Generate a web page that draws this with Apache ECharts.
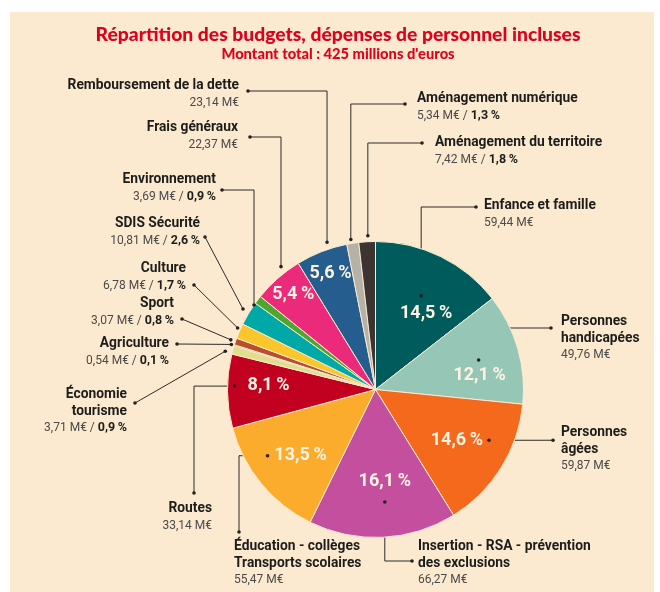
<!DOCTYPE html>
<html><head><meta charset="utf-8">
<script src="https://cdn.jsdelivr.net/npm/echarts@6/dist/echarts.min.js"></script>
<style>
html,body{margin:0;padding:0;background:#fff}
#wrap{position:relative;width:660px;height:592px;overflow:hidden}
#bg{position:absolute;left:10px;top:12px;width:644px;height:580px;background:#fcead0}
#c{position:absolute;left:0;top:0;width:660px;height:592px}
</style>
</head><body><div id="wrap"><div id="bg"></div><div id="c"></div></div>
<script>
// ---- data ----
const categories = ['Enfance et famille','Personnes\nhandicapées','Personnes\nâgées','Insertion - RSA - prévention\ndes exclusions','Éducation - collèges\nTransports scolaires','Routes','Économie\ntourisme','Agriculture','Sport','Culture','SDIS Sécurité','Environnement','Frais généraux','Remboursement de la dette','Aménagement numérique','Aménagement du territoire'];
const amounts = [59.44,49.76,59.87,66.27,55.47,33.14,3.71,0.54,3.07,6.78,10.81,3.69,22.37,23.14,5.34,7.42];
const percents = ['14,5','12,1','14,6','16,1','13,5','8,1','0,9','0,1','0,8','1,7','2,6','0,9','5,4','5,6','1,3','1,8'];
const titleText = 'Répartition des budgets, dépenses de personnel incluses';
const subtitleText = 'Montant total : 425 millions d\'euros';

// ---- styles ----
const colors = ['#005b5c','#96c6b6','#f5691d','#c54f9f','#fbac2c','#c2001f','#dfe08c','#a066a8','#b8502a','#fbc52c','#00a8a8','#4da62e','#ec2a7b','#255d8f','#b6b2a8','#3b3430'];
const FONT = 'Roboto, "Liberation Sans", sans-serif';
const TFONT = 'Lato, Roboto, sans-serif';
const CX = 375.5, CY = 389.5, R = 148;

// inner percent label placement: [angle offset deg, radius px] (null = no inner label)
const pctPlace = [[7.8,91],[8.7,105],[0,96],[-3,92],[-2,100],[3,107],null,null,null,null,null,null,[0.5,126],[0,124],null,null];
// outside label layout
const outLay = [
  {align:'left', x:484, y:206, dot:[476,207], route:'hv', inner:[-5,-18]},
  {align:'left', x:561, y:322, dot:[551,328], route:'hv', inner:[-1,-16]},
  {align:'left', x:561, y:433, dot:[553,440], route:'h', inner:[32,0]},
  {align:'left', x:418, y:547, dot:[412,561], route:'hv', inner:[0,21]},
  {align:'left', x:234, y:547, dot:[239,532], route:'vh', inner:[-33,0]},
  {align:'right', x:212, y:509, dot:[194,493], route:'vh', inner:[-34,1]},
  {align:'right', x:127, y:395, dot:[135,403], route:'d', edge:[-1.2,155], pct:true},
  {align:'right', x:169, y:344, dot:[177,344], route:'d', edge:[0,151], pct:true},
  {align:'right', x:174, y:304, dot:[182,319], route:'d', edge:[0,153], pct:true},
  {align:'right', x:186, y:269, dot:[194,285], route:'d', edge:[0.8,151], pct:true},
  {align:'right', x:200, y:224, dot:[205,237], route:'d', edge:[0.3,155], pct:true},
  {align:'right', x:216, y:180, dot:[222,190], route:'hv', edge:[-2.5,148], pct:true},
  {align:'right', x:238, y:128, dot:[250,137], route:'hv', edge:[3.7,155]},
  {align:'right', x:239, y:86, dot:[248,91], route:'hv', edge:[3.1,155]},
  {align:'left', x:417, y:99, dot:[405,104], route:'hv', edge:[-0.5,152], pct:true},
  {align:'left', x:435, y:143, dot:[422,143], route:'hv', edge:[0.4,154], pct:true}
];

// ---- geometry derived from data ----
const total = amounts.reduce((a,b)=>a+b,0);
const mid = []; let acc = 0;
amounts.forEach(v => { mid.push((acc + v/2) / total * 360); acc += v; });
function polar(deg, r){ const a = deg*Math.PI/180; return [CX + r*Math.sin(a), CY - r*Math.cos(a)]; }
const pctPos = pctPlace.map((p,i) => p ? polar(mid[i]+p[0], p[1]) : null);
const linePts = outLay.map((L,i) => {
  let anc;
  if (L.inner) anc = [pctPos[i][0]+L.inner[0], pctPos[i][1]+L.inner[1]];
  else anc = polar(mid[i]+L.edge[0], L.edge[1]);
  const d = L.dot;
  if (L.route === 'hv') return [d, [anc[0], d[1]], anc];
  if (L.route === 'vh') return [d, [d[0], anc[1]], anc];
  if (L.route === 'h') return [[d[0], anc[1]], anc];
  return [d, anc];
});
const fmt = v => v.toFixed(2).replace('.', ',');
const LH = 16.5;

const chart = echarts.init(document.getElementById('c'), null, {renderer:'canvas'});
const pieData = categories.map((n,i)=>({name:n, value:amounts[i], itemStyle:{color:colors[i]}}));
const dots = [];
linePts.forEach(pts => { [pts[0], pts[pts.length-1]].forEach(p => dots.push({type:'circle', shape:{cx:p[0], cy:p[1], r:1.8}, style:{fill:'#222'}, z:100, silent:true})); });

chart.setOption({
  backgroundColor:'transparent',
  animation:false,
  title:{
    text:titleText, subtext:subtitleText, left:333, top:20, textAlign:'center', itemGap:3,
    textStyle:{fontFamily:TFONT, fontSize:19.3, fontWeight:900, color:'#e1001c'},
    subtextStyle:{fontFamily:TFONT, fontSize:14.7, fontWeight:900, color:'#e1001c'}
  },
  graphic: dots,
  series:[
    {
      type:'pie', center:[CX,CY], radius:R, startAngle:90, clockwise:true, avoidLabelOverlap:false, silent:true,
      data: pieData,
      itemStyle:{borderColor:'#fbe9d0', borderWidth:1},
      label:{show:true, position:'inside', formatter:p => pctPlace[p.dataIndex] ? percents[p.dataIndex] + '\u2009%' : '',
        color:'#fdf3e3', fontSize:18, fontWeight:'bold', fontFamily:FONT},
      labelLine:{show:false},
      labelLayout: p => { const q = pctPos[p.dataIndex]; return q ? {x:q[0], y:q[1], align:'center', verticalAlign:'middle'} : {}; }
    },
    {
      type:'pie', center:[CX,CY], radius:R, startAngle:90, clockwise:true, avoidLabelOverlap:false, silent:true,
      data: categories.map((n,i)=>({name:n, value:amounts[i]})),
      itemStyle:{color:'rgba(0,0,0,0)', borderWidth:0},
      label:{show:true, position:'outside', fontFamily:FONT,
        formatter: p => {
          const i = p.dataIndex, L = outLay[i], s = L.align === 'right' ? 'r' : 'l';
          const lines = categories[i].split('\n').map(t => '{n'+s+'|'+t+'}');
          let v = '{v'+s+'|'+fmt(amounts[i])+' M€'+(L.pct ? ' / ' : '')+'}';
          if (L.pct) v += '{p'+s+'|'+percents[i]+'\u2009%}';
          return lines.concat([v]).join('\n');
        },
        rich:{
          nl:{fontFamily:FONT, fontWeight:'bold', fontSize:13.8, color:'#1d1d1b', lineHeight:LH, align:'left'},
          vl:{fontFamily:FONT, fontSize:12, color:'#4a4a4a', lineHeight:LH, align:'left'},
          pl:{fontFamily:FONT, fontSize:12.5, fontWeight:'bold', color:'#1d1d1b', lineHeight:LH, align:'left'},
          nr:{fontFamily:FONT, fontWeight:'bold', fontSize:13.8, color:'#1d1d1b', lineHeight:LH, align:'right'},
          vr:{fontFamily:FONT, fontSize:12, color:'#4a4a4a', lineHeight:LH, align:'right'},
          pr:{fontFamily:FONT, fontSize:12.5, fontWeight:'bold', color:'#1d1d1b', lineHeight:LH, align:'right'}
        }
      },
      labelLine:{show:true, lineStyle:{color:'#2a2a2a', width:1}},
      labelLayout: p => {
        const L = outLay[p.dataIndex];
        return {x:L.x, y:L.y - LH/2, align:L.align, verticalAlign:'top', labelLinePoints: linePts[p.dataIndex]};
      }
    }
  ]
});
</script></body></html>
